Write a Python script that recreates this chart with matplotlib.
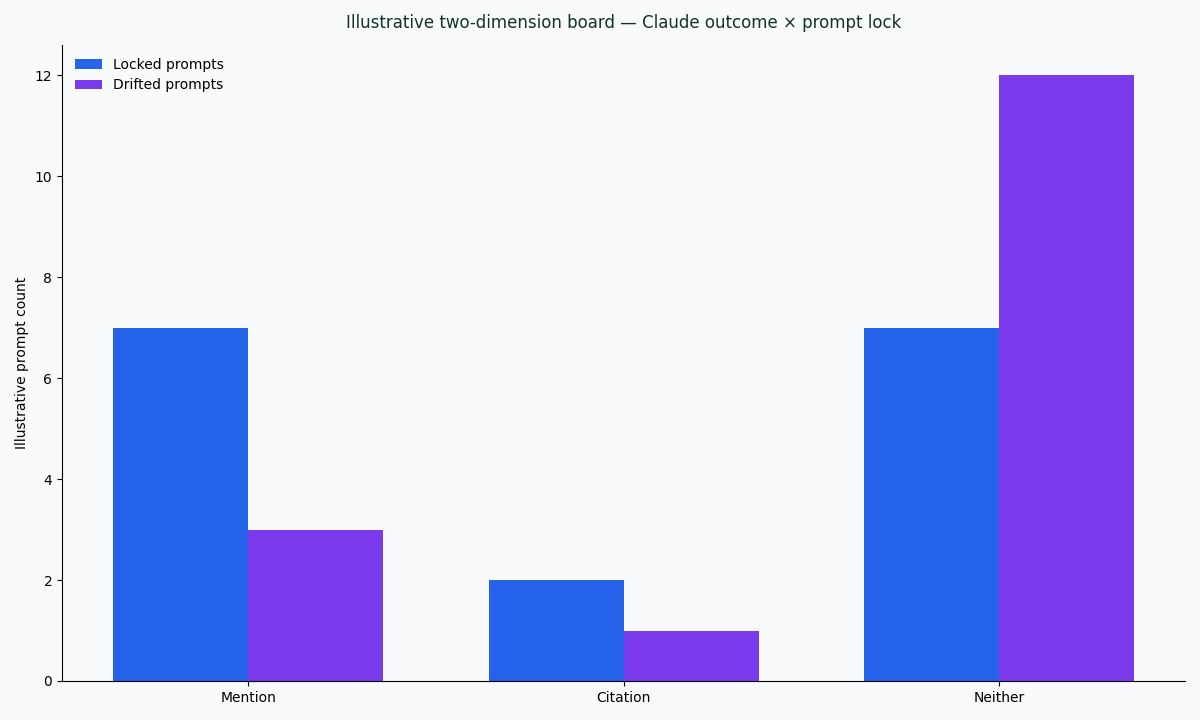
import matplotlib
matplotlib.use("Agg")
import matplotlib.pyplot as plt
import numpy as np

categories = ["Mention", "Citation", "Neither"]
locked = [7, 2, 7]
drifted = [3, 1, 12]
series_labels = ["Locked prompts", "Drifted prompts"]

bg = "#f8fafc"
fig, ax = plt.subplots(figsize=(12, 7.2), dpi=100)
fig.patch.set_facecolor(bg)
ax.set_facecolor(bg)
fig.subplots_adjust(left=0.0517, right=0.9878, bottom=0.0542, top=0.9375)

x = np.arange(len(categories))
w = 0.36
ax.bar(x - w / 2, locked, w, color="#2563eb", label=series_labels[0])
ax.bar(x + w / 2, drifted, w, color="#7c3aed", label=series_labels[1])

ax.set_xticks(x)
ax.set_xticklabels(categories)
ax.set_ylabel("Illustrative prompt count")
ax.set_title("Illustrative two-dimension board \u2014 Claude outcome \u00d7 prompt lock",
             fontsize=12, color="#12332b", pad=12)
ax.spines["top"].set_visible(False)
ax.spines["right"].set_visible(False)
ax.legend(loc="upper left", frameon=False)

fig.savefig("out.png", facecolor=bg)
